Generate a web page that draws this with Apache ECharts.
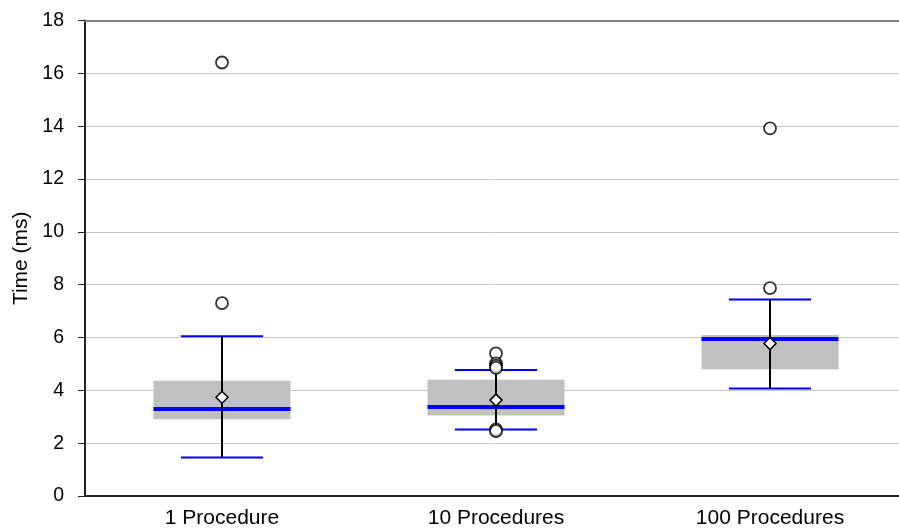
<!DOCTYPE html>
<html>
<head>
<meta charset="utf-8">
<script src="https://cdn.jsdelivr.net/npm/echarts@6/dist/echarts.min.js"></script>
<style>html,body{margin:0;padding:0;background:#fff}#c{width:899px;height:532px}</style>
</head>
<body>
<div id="c"></div>
<script>
const categories = ['1 Procedure', '10 Procedures', '100 Procedures'];
const whiskerLow = [1.46, 2.52, 4.07];
const q1 = [2.91, 3.05, 4.80];
const median = [3.29, 3.37, 5.94];
const q3 = [4.36, 4.40, 6.09];
const whiskerHigh = [6.05, 4.77, 7.44];
const mean = [3.74, 3.63, 5.77];
const outlierCat = [0, 0, 1, 1, 1, 1, 1, 1, 2, 2];
const outlierVal = [16.41, 7.30, 5.40, 5.02, 4.93, 4.85, 2.52, 2.46, 13.92, 7.87];
const yTicks = [0, 18, 2];

const boxData = categories.map((c, i) => [i, whiskerLow[i], q1[i], median[i], q3[i], whiskerHigh[i], mean[i]]);
const outlierData = outlierCat.map((c, i) => [c, outlierVal[i]]);

function renderItem(params, api) {
  const x = api.value(0);
  const pLow = api.coord([x, api.value(1)]);
  const pQ1 = api.coord([x, api.value(2)]);
  const pMed = api.coord([x, api.value(3)]);
  const pQ3 = api.coord([x, api.value(4)]);
  const pHigh = api.coord([x, api.value(5)]);
  const pMean = api.coord([x, api.value(6)]);
  const band = api.size([1, 0])[0];
  const bw = band * 0.5;
  const cw = band * 0.3;
  const cx = pMed[0];
  const d = 6;
  return {
    type: 'group',
    children: [
      { type: 'rect', shape: { x: cx - bw / 2, y: pQ3[1], width: bw, height: pQ1[1] - pQ3[1] },
        style: { fill: '#c0c0c0' } },
      { type: 'line', shape: { x1: cx - bw / 2, y1: pMed[1], x2: cx + bw / 2, y2: pMed[1] },
        style: { stroke: '#0000ff', lineWidth: 4 } },
      { type: 'line', shape: { x1: cx - cw / 2, y1: pLow[1], x2: cx + cw / 2, y2: pLow[1] },
        style: { stroke: '#0000ff', lineWidth: 2 } },
      { type: 'line', shape: { x1: cx - cw / 2, y1: pHigh[1], x2: cx + cw / 2, y2: pHigh[1] },
        style: { stroke: '#0000ff', lineWidth: 2 } },
      { type: 'line', shape: { x1: cx, y1: pLow[1], x2: cx, y2: pHigh[1] },
        style: { stroke: '#000', lineWidth: 2 } },
      { type: 'polygon', shape: { points: [[cx, pMean[1] - d], [cx + d, pMean[1]], [cx, pMean[1] + d], [cx - d, pMean[1]]] },
        style: { fill: '#fff', stroke: '#000', lineWidth: 1.5 } }
    ]
  };
}

const chart = echarts.init(document.getElementById('c'), null, { renderer: 'canvas' });
chart.setOption({
  animation: false,
  backgroundColor: '#fff',
  grid: { left: 85, width: 822, top: 20.5, bottom: 36, containLabel: false, outerBoundsMode: 'none' },
  xAxis: [
    {
      type: 'category', data: categories, position: 'bottom',
      axisLine: { lineStyle: { color: '#222', width: 2 } },
      axisTick: { show: false },
      axisLabel: { color: '#000', fontSize: 21, fontFamily: 'Liberation Sans, Arial, sans-serif', margin: 12 },
      splitLine: { show: false }
    },
    {
      type: 'category', data: categories, position: 'top',
      axisLine: { lineStyle: { color: '#808080', width: 2 } },
      axisTick: { show: false }, axisLabel: { show: false }, splitLine: { show: false }
    }
  ],
  yAxis: {
    type: 'value', min: yTicks[0], max: yTicks[1], interval: yTicks[2],
    name: 'Time (ms)', nameLocation: 'middle', nameGap: 41,
    nameTextStyle: { color: '#000', fontSize: 21, fontFamily: 'Liberation Sans, Arial, sans-serif' },
    axisLine: { show: true, lineStyle: { color: '#222', width: 2 } },
    axisTick: { show: true, length: 7, lineStyle: { color: '#222', width: 1 } },
    axisLabel: { color: '#000', fontSize: 19.5, fontFamily: 'Liberation Sans, Arial, sans-serif', margin: 21 },
    splitLine: { show: true, lineStyle: { color: '#c8c8c8', width: 1 } }
  },
  series: [
    { type: 'custom', renderItem: renderItem, data: boxData, encode: { x: 0, y: [1, 2, 3, 4, 5, 6] }, z: 2 },
    { type: 'scatter', data: outlierData, symbol: 'circle', symbolSize: 12,
      itemStyle: { color: '#fff', borderColor: '#000', borderWidth: 1.8 }, z: 3 }
  ]
});
</script>
</body>
</html>
